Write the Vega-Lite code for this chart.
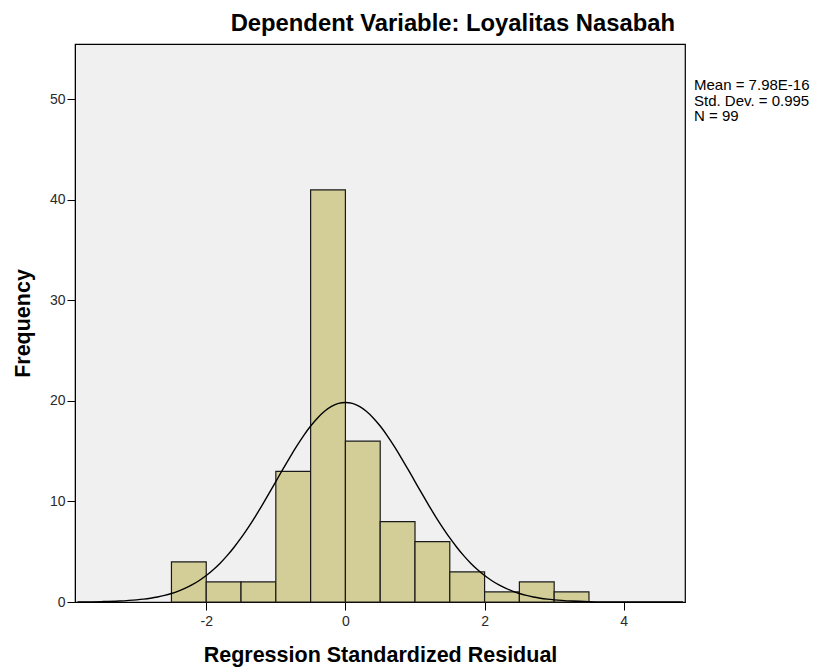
{
  "$schema": "https://vega.github.io/schema/vega-lite/v6.json",
  "width": 610,
  "height": 558,
  "autosize": {"type": "none"},
  "padding": {"left": 75, "top": 44, "right": 137, "bottom": 68},
  "background": "white",
  "config": {
    "font": "Liberation Sans",
    "view": {"fill": "#f0f0f0", "stroke": "#000000", "strokeWidth": 1.2},
    "axis": {
      "grid": false,
      "domainColor": "#000000",
      "tickColor": "#000000",
      "labelColor": "#2a2a2a",
      "labelFont": "Liberation Sans",
      "labelFontSize": 14,
      "titleFont": "Liberation Sans",
      "titleFontSize": 21.5,
      "titleFontWeight": "bold",
      "titleColor": "#000000",
      "tickSize": 8
    }
  },
  "title": {
    "text": "Dependent Variable: Loyalitas Nasabah",
    "anchor": "end",
    "frame": "group",
    "dx": -10,
    "offset": 8,
    "font": "Liberation Sans",
    "fontSize": 23.8,
    "fontWeight": "bold",
    "color": "#000000"
  },
  "datasets": {
    "bars": [
      {"start": -2.5, "end": -2.0, "count": 4},
      {"start": -2.0, "end": -1.5, "count": 2},
      {"start": -1.5, "end": -1.0, "count": 2},
      {"start": -1.0, "end": -0.5, "count": 13},
      {"start": -0.5, "end": 0.0, "count": 41},
      {"start": 0.0, "end": 0.5, "count": 16},
      {"start": 0.5, "end": 1.0, "count": 8},
      {"start": 1.0, "end": 1.5, "count": 6},
      {"start": 1.5, "end": 2.0, "count": 3},
      {"start": 2.0, "end": 2.5, "count": 1},
      {"start": 2.5, "end": 3.0, "count": 2},
      {"start": 3.0, "end": 3.5, "count": 1}
    ],
    "curve": [
      {"x": -3.85, "y": 0.0111},
      {"x": -3.5, "y": 0.0408},
      {"x": -3.25, "y": 0.0957},
      {"x": -3.0, "y": 0.211},
      {"x": -2.9, "y": 0.284},
      {"x": -2.8, "y": 0.379},
      {"x": -2.7, "y": 0.5},
      {"x": -2.6, "y": 0.653},
      {"x": -2.5, "y": 0.845},
      {"x": -2.4, "y": 1.08},
      {"x": -2.3, "y": 1.37},
      {"x": -2.2, "y": 1.72},
      {"x": -2.1, "y": 2.14},
      {"x": -2.0, "y": 2.63},
      {"x": -1.9, "y": 3.21},
      {"x": -1.8, "y": 3.86},
      {"x": -1.7, "y": 4.61},
      {"x": -1.6, "y": 5.45},
      {"x": -1.5, "y": 6.37},
      {"x": -1.4, "y": 7.38},
      {"x": -1.3, "y": 8.45},
      {"x": -1.2, "y": 9.59},
      {"x": -1.1, "y": 10.77},
      {"x": -1.0, "y": 11.98},
      {"x": -0.9, "y": 13.19},
      {"x": -0.8, "y": 14.37},
      {"x": -0.7, "y": 15.5},
      {"x": -0.6, "y": 16.55},
      {"x": -0.5, "y": 17.5},
      {"x": -0.4, "y": 18.31},
      {"x": -0.3, "y": 18.97},
      {"x": -0.2, "y": 19.45},
      {"x": -0.1, "y": 19.75},
      {"x": 0.0, "y": 19.85},
      {"x": 0.1, "y": 19.75},
      {"x": 0.2, "y": 19.45},
      {"x": 0.3, "y": 18.97},
      {"x": 0.4, "y": 18.31},
      {"x": 0.5, "y": 17.5},
      {"x": 0.6, "y": 16.55},
      {"x": 0.7, "y": 15.5},
      {"x": 0.8, "y": 14.37},
      {"x": 0.9, "y": 13.19},
      {"x": 1.0, "y": 11.98},
      {"x": 1.1, "y": 10.77},
      {"x": 1.2, "y": 9.59},
      {"x": 1.3, "y": 8.45},
      {"x": 1.4, "y": 7.38},
      {"x": 1.5, "y": 6.37},
      {"x": 1.6, "y": 5.45},
      {"x": 1.7, "y": 4.61},
      {"x": 1.8, "y": 3.86},
      {"x": 1.9, "y": 3.21},
      {"x": 2.0, "y": 2.63},
      {"x": 2.1, "y": 2.14},
      {"x": 2.2, "y": 1.72},
      {"x": 2.3, "y": 1.37},
      {"x": 2.4, "y": 1.08},
      {"x": 2.5, "y": 0.845},
      {"x": 2.6, "y": 0.653},
      {"x": 2.7, "y": 0.5},
      {"x": 2.8, "y": 0.379},
      {"x": 2.9, "y": 0.284},
      {"x": 3.0, "y": 0.211},
      {"x": 3.25, "y": 0.0957},
      {"x": 3.5, "y": 0.0408},
      {"x": 4.0, "y": 0.0062},
      {"x": 4.5, "y": 0.0007},
      {"x": 4.85, "y": 0.0}
    ],
    "stats": [
      {"label": "stats"}
    ]
  },
  "layer": [
    {
      "data": {"name": "bars"},
      "mark": {"type": "rect", "fill": "#d3ce97", "stroke": "#1a1a1a", "strokeWidth": 1.2},
      "encoding": {
        "x": {
          "field": "start",
          "type": "quantitative",
          "scale": {"domain": [-3.886, 4.88], "nice": false, "zero": false},
          "axis": {"values": [-2, 0, 2, 4], "labelExpr": "'' + datum.value", "title": "Regression Standardized Residual", "titlePadding": 16, "labelPadding": 4}
        },
        "x2": {"field": "end"},
        "y": {
          "field": "count",
          "type": "quantitative",
          "scale": {"domain": [0, 55.5], "nice": false},
          "axis": {"values": [0, 10, 20, 30, 40, 50], "title": "Frequency", "titlePadding": 15, "labelPadding": 2}
        },
        "y2": {"datum": 0}
      }
    },
    {
      "data": {"name": "curve"},
      "mark": {"type": "line", "color": "#000000", "strokeWidth": 1.4, "interpolate": "monotone", "clip": true},
      "encoding": {
        "x": {"field": "x", "type": "quantitative"},
        "y": {"field": "y", "type": "quantitative"}
      }
    },
    {
      "data": {"name": "stats"},
      "mark": {"type": "text", "align": "left", "baseline": "top", "dx": 9, "fontSize": 15, "lineHeight": 15.5, "color": "#000000", "clip": false},
      "encoding": {
        "x": {"datum": 4.88},
        "y": {"datum": 52.1},
        "text": {"value": ["Mean = 7.98E-16", "Std. Dev. = 0.995", "N = 99"]}
      }
    }
  ]
}
